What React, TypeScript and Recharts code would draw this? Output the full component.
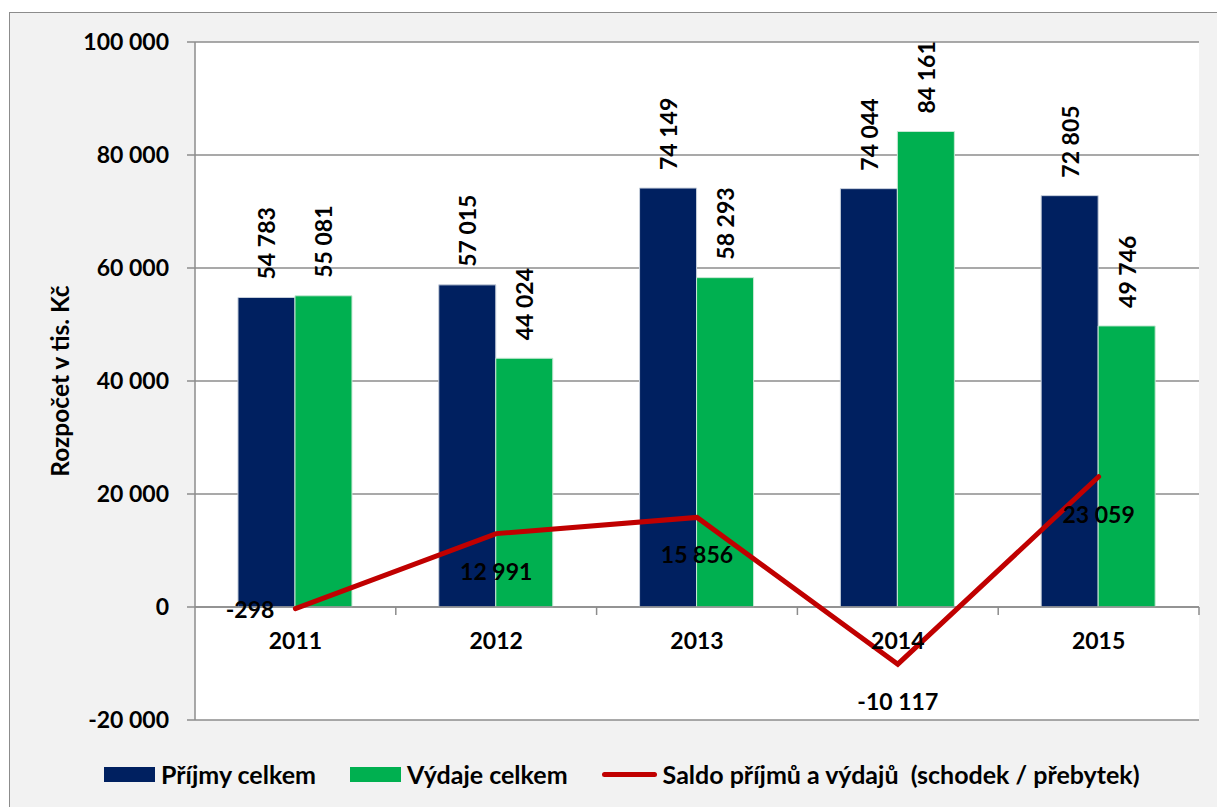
import {
  ComposedChart,
  Bar,
  Line,
  XAxis,
  YAxis,
  CartesianGrid,
  ReferenceLine,
  LabelList,
} from "recharts";

const years = ["2011", "2012", "2013", "2014", "2015"];
const prijmy = [54783, 57015, 74149, 74044, 72805];
const vydaje = [55081, 44024, 58293, 84161, 49746];
const saldo = [-298, 12991, 15856, -10117, 23059];
const yTicks = [-20000, 0, 20000, 40000, 60000, 80000, 100000];

const seriesNames = [
  "Příjmy celkem",
  "Výdaje celkem",
  "Saldo příjmů a výdajů  (schodek / přebytek)",
];

const NAVY = "#002060";
const GREEN = "#00b050";
const RED = "#c00000";
const GRID = "#8c8c8c";
const FONT = "Lato, 'Open Sans', sans-serif";

// chart geometry
const W = 1217;
const H = 807;
const TOP = 42;
const LEFT = 195;
const RIGHT = 18;
const BOTTOM = 87;
const XAXIS_H = 30;
const Y_MIN = -20000;
const Y_MAX = 100000;
const PLOT_H = H - TOP - BOTTOM;
const ZERO_Y = TOP + (PLOT_H * Y_MAX) / (Y_MAX - Y_MIN);
const BAND = (W - LEFT - RIGHT) / years.length;

const data = years.map((year, i) => ({
  year,
  prijmy: prijmy[i],
  vydaje: vydaje[i],
  saldo: saldo[i],
}));

const fmt = (n: number) =>
  (n < 0 ? "-" : "") + String(Math.abs(n)).replace(/\B(?=(\d{3})+(?!\d))/g, " ");

const textStyle = { fontFamily: FONT, fontWeight: 700, fill: "#000" };

const YearTick = ({ x, payload }: any) => (
  <g>
    <text x={x} y={ZERO_Y + 33} textAnchor="middle" dominantBaseline="central" fontSize={23} style={textStyle}>
      {payload.value}
    </text>
    <line x1={x + BAND / 2} x2={x + BAND / 2} y1={ZERO_Y} y2={ZERO_Y + 8} stroke={GRID} strokeWidth={1.5} />
  </g>
);

const BarValue = ({ x, y, width, value }: any) => {
  const cx = x + width / 2;
  const cy = y - 18;
  return (
    <text
      x={cx}
      y={cy}
      transform={`rotate(-90 ${cx} ${cy})`}
      textAnchor="start"
      dominantBaseline="central"
      fontSize={23}
      style={textStyle}
    >
      {fmt(value)}
    </text>
  );
};

const SaldoValue = ({ x, y, value, index }: any) => {
  const first = index === 0 || value === saldo[0];
  return (
    <text
      x={first ? x - 21 : x}
      y={first ? y : y + 37}
      textAnchor={first ? "end" : "middle"}
      dominantBaseline="central"
      fontSize={23}
      style={textStyle}
    >
      {fmt(value)}
    </text>
  );
};

const YLabel = ({ viewBox }: any) => {
  const cx = viewBox.x + 59;
  const cy = viewBox.y + viewBox.height / 2;
  return (
    <text
      x={cx}
      y={cy}
      transform={`rotate(-90 ${cx} ${cy})`}
      textAnchor="middle"
      dominantBaseline="central"
      fontSize={24.5}
      style={textStyle}
    >
      Rozpočet v tis. Kč
    </text>
  );
};

const legendItems = [
  { name: seriesNames[0], color: NAVY, kind: "box" },
  { name: seriesNames[1], color: GREEN, kind: "box" },
  { name: seriesNames[2], color: RED, kind: "line" },
];

export default function App() {
  return (
    <div style={{ position: "absolute", left: 0, top: 0, width: W, height: H, overflow: "hidden", background: "#fff" }}>
      <div
        style={{
          position: "absolute",
          left: 9,
          top: 12,
          width: 1300,
          height: 900,
          background: "#f2f2f2",
          border: `1.5px solid ${GRID}`,
        }}
      />
      <div style={{ position: "absolute", left: 0, top: 0 }}>
        <ComposedChart
          width={W}
          height={H}
          data={data}
          margin={{ top: TOP, right: RIGHT, left: 0, bottom: BOTTOM - XAXIS_H }}
          barCategoryGap="21.4%"
          barGap={0}
        >
          <CartesianGrid vertical={false} stroke={GRID} strokeWidth={1.5} fill="#fff" fillOpacity={1} />
          <XAxis
            dataKey="year"
            height={XAXIS_H}
            axisLine={false}
            tickLine={false}
            tick={<YearTick />}
            interval={0}
          />
          <YAxis
            width={LEFT}
            domain={[Y_MIN, Y_MAX]}
            ticks={yTicks}
            interval={0}
            tickFormatter={fmt}
            axisLine={{ stroke: GRID, strokeWidth: 1.5 }}
            tickLine={{ stroke: GRID, strokeWidth: 1.5 }}
            tickSize={8}
            tickMargin={18}
            tick={{ fontFamily: FONT, fontWeight: 700, fontSize: 23, fill: "#000" }}
            label={<YLabel />}
          />
          <Bar dataKey="prijmy" name={seriesNames[0]} fill={NAVY} stroke="#c8d0dc" strokeWidth={1} isAnimationActive={false}>
            <LabelList dataKey="prijmy" content={<BarValue />} />
          </Bar>
          <Bar dataKey="vydaje" name={seriesNames[1]} fill={GREEN} stroke="#c8e8d4" strokeWidth={1} isAnimationActive={false}>
            <LabelList dataKey="vydaje" content={<BarValue />} />
          </Bar>
          <ReferenceLine y={0} stroke={GRID} strokeWidth={1.5} />
          <Line
            type="linear"
            dataKey="saldo"
            name={seriesNames[2]}
            stroke={RED}
            strokeWidth={5}
            strokeLinecap="round"
            dot={false}
            activeDot={false}
            isAnimationActive={false}
          >
            <LabelList dataKey="saldo" content={<SaldoValue />} />
          </Line>
        </ComposedChart>
      </div>
      <div
        style={{
          position: "absolute",
          left: 104,
          top: 774,
          transform: "translateY(-50%)",
          display: "flex",
          alignItems: "center",
          fontFamily: FONT,
          fontWeight: 700,
          fontSize: 25,
          color: "#000",
          whiteSpace: "pre",
        }}
      >
        {legendItems.map((it, i) => (
          <div key={it.name} style={{ display: "flex", alignItems: "center", marginRight: i < 2 ? 34 : 0 }}>
            <span
              style={{
                display: "inline-block",
                width: it.kind === "box" ? 51 : 55,
                height: it.kind === "box" ? 15 : 5,
                borderRadius: it.kind === "box" ? 0 : 3,
                background: it.color,
                marginRight: 6,
              }}
            />
            <span>{it.name}</span>
          </div>
        ))}
      </div>
    </div>
  );
}
